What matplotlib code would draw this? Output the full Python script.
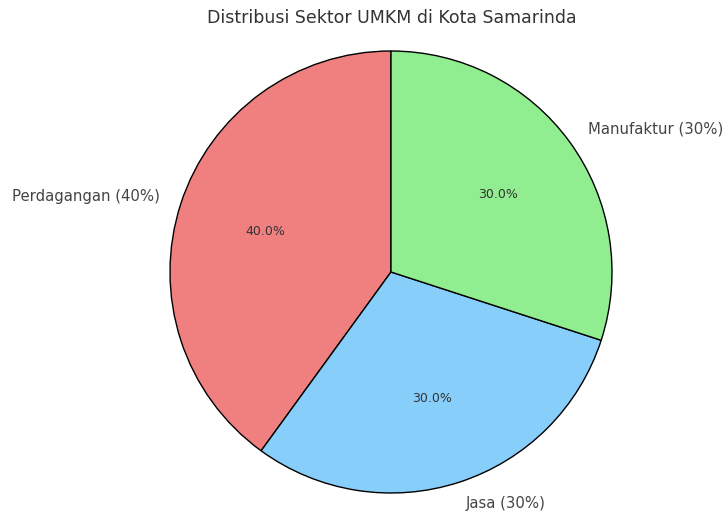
import matplotlib
matplotlib.use("Agg")
import matplotlib.pyplot as plt

plt.rcParams["font.family"] = ["DejaVu Sans"]

labels = ["Perdagangan (40%)", "Jasa (30%)", "Manufaktur (30%)"]
shares = [40, 30, 30]
colors = ["lightcoral", "lightskyblue", "lightgreen"]

fig = plt.figure(figsize=(7.22, 5.14), dpi=100)
ax = fig.add_axes([0, 0, 1, 1])

wedges, texts, autotexts = ax.pie(
    shares, labels=labels, colors=colors, autopct="%1.1f%%",
    startangle=90, wedgeprops={"edgecolor": "black", "linewidth": 1},
    textprops={"color": "#444444", "fontsize": 10.7},
)
for t in autotexts:
    t.set_fontsize(9)
    t.set_color("#333333")

# radius 1 -> ~221 px, centre at (391, 272) px from top-left
r = 221
ax.set_xlim(-391 / r, (722 - 391) / r)
ax.set_ylim(-(514 - 272) / r, 272 / r)
ax.set_aspect("auto")
ax.axis("off")

fig.text(392 / 722, 1 - 18 / 514, "Distribusi Sektor UMKM di Kota Samarinda",
         ha="center", va="center", fontsize=12.5, color="#333333")

fig.savefig("out.png", dpi=100)
